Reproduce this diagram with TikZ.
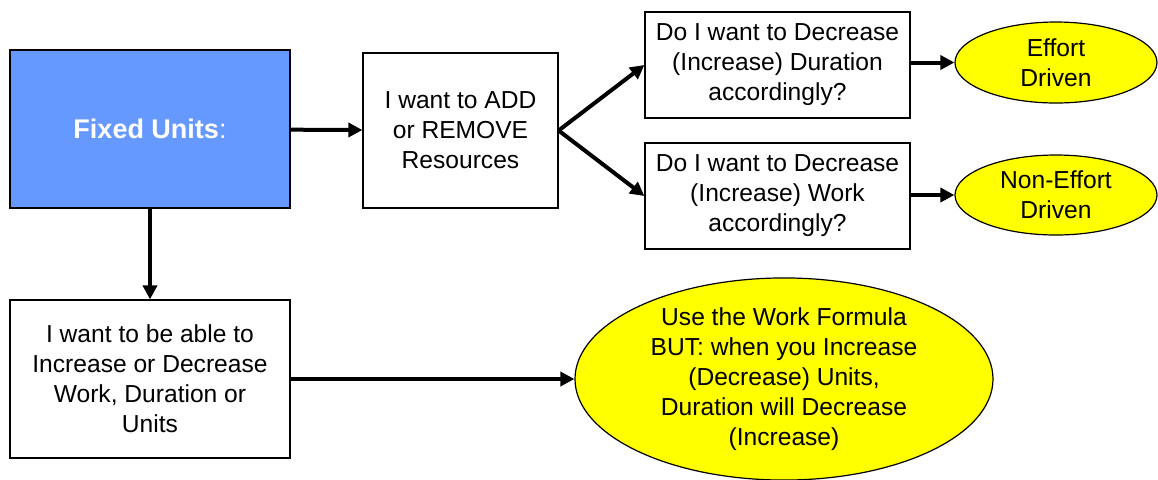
\documentclass[tikz,border=0pt]{standalone}
\usepackage{fontspec}
\setmainfont{Liberation Sans}
\usepackage{xcolor}
\usetikzlibrary{arrows.meta,positioning,calc,shapes.geometric}
\definecolor{unitblue}{HTML}{6699FF}
\definecolor{drvyellow}{HTML}{FFFF00}

\begin{document}
\begin{tikzpicture}[x=0.5pt,y=-0.5pt,
box/.style={draw,line width=0.6pt,rectangle,align=center,inner sep=0pt,font=\fontsize{12.3}{15}\selectfont},
oval/.style={draw,line width=0.6pt,ellipse,fill=drvyellow,align=center,inner sep=0pt,font=\fontsize{12.3}{15}\selectfont},
go/.style={line width=2pt,-{Triangle[length=7pt,width=7pt]}}]

\useasboundingbox (0,0) rectangle (1158,479);

\node[box, fill=unitblue, text=white, minimum width=140pt, minimum height=79pt,
  font=\fontsize{13.5}{16}\selectfont] (fix) at (150,129) {\textbf{Fixed Units}:};
\node[box, minimum width=97.5pt, minimum height=77.5pt] (add) at (460.5,130.5) {I want to ADD\\or REMOVE\\Resources};
\node[box, minimum width=132.5pt, minimum height=53pt] (dur) at (777.5,65) {Do I want to Decrease\\(Increase) Duration\\accordingly?};
\node[box, minimum width=132.5pt, minimum height=53pt] (work) at (777.5,196) {Do I want to Decrease\\(Increase) Work\\accordingly?};
\node[oval, minimum width=101pt, minimum height=40.5pt] (eff) at (1056,62.5) {Effort\\Driven};
\node[oval, minimum width=101pt, minimum height=40pt] (noneff) at (1056,195) {Non-Effort\\Driven};
\node[box, minimum width=140pt, minimum height=79pt] (able) at (150,379) {I want to be able to\\Increase or Decrease\\Work, Duration or\\Units};
\node[oval, minimum width=209pt, minimum height=98.5pt] (formula) at (784,379) {Use the Work Formula\\BUT: when you Increase\\(Decrease) Units,\\Duration will Decrease\\(Increase)};

\draw[go] (fix) -- (add);
\draw[go] (add.east) -- (dur.west);
\draw[go] (add.east) -- (work.west);
\draw[go] (dur.east |- eff.west) -- (eff.west);
\draw[go] (work.east |- noneff.west) -- (noneff.west);
\draw[go] (fix) -- (able);
\draw[go] (able.east) -- (formula.west);
\end{tikzpicture}
\end{document}
